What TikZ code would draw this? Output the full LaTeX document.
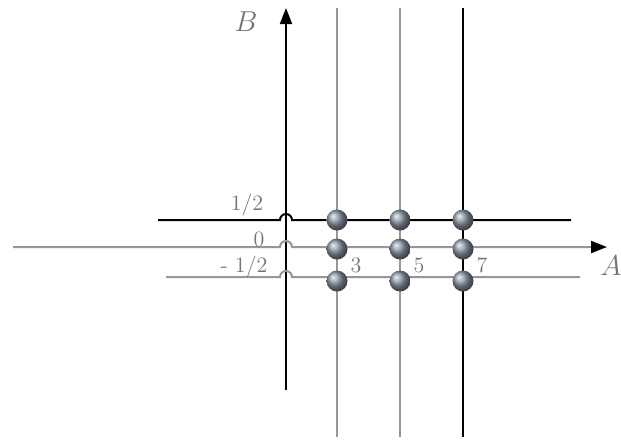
\documentclass[tikz,border=0pt]{standalone}
\usetikzlibrary{arrows.meta}
\definecolor{linegray}{RGB}{150,150,150}
\definecolor{textgray}{RGB}{115,115,115}
\definecolor{dotgray}{RGB}{140,148,165}
\begin{document}
\begin{tikzpicture}[x=0.5pt,y=-0.5pt,
        blackline/.style={line width=1pt, draw=black},
        grayline/.style={line width=1pt, draw=linegray},
        arrow/.style={-{Triangle[length=8pt,width=6pt,color=black]}},
        ball/.style={circle, shading=ball, ball color=dotgray, minimum size=10.5pt, inner sep=0pt},
        lbl/.style={text=textgray, inner sep=0pt, font=\fontsize{11}{13}\selectfont}]
        \useasboundingbox (0,0) rectangle (621,441);

        %%% End points of the lines
        % B axis
        \coordinate (Bbot) at (286,390);
        \coordinate (Btop) at (286,8);
        % vertical lines A = 3, 5, 7
        \coordinate (v3top) at (337,8);   \coordinate (v3bot) at (337,437);
        \coordinate (v5top) at (400,8);   \coordinate (v5bot) at (400,437);
        \coordinate (v7top) at (463,8);   \coordinate (v7bot) at (463,437);
        % horizontal lines B = 1/2, 0, -1/2 (with the hop over the B axis)
        \coordinate (hpl) at (158,220);   \coordinate (hpr) at (571,220);
        \coordinate (hzl) at (13,247);    \coordinate (hzr) at (607,247);
        \coordinate (hml) at (166,277);   \coordinate (hmr) at (580,277);

        %%% Vertical lines
        \draw[grayline] (v3top) -- (v3bot);
        \draw[grayline] (v5top) -- (v5bot);
        \draw[blackline] (v7top) -- (v7bot);
        \draw[blackline, arrow] (Bbot) -- (Btop);

        %%% Horizontal lines
        \draw[blackline] (hpl) -- (280,220) arc[start angle=180, end angle=0, radius=3pt] -- (hpr);
        \draw[grayline, arrow] (hzl) -- (280,247) arc[start angle=180, end angle=0, radius=3pt] -- (hzr);
        \draw[grayline] (hml) -- (280,277) arc[start angle=180, end angle=0, radius=3pt] -- (hmr);

        %%% Points of the grid
        \node[ball] (p3a) at (337,220) {};
        \node[ball] (p5a) at (400,220) {};
        \node[ball] (p7a) at (463,220) {};
        \node[ball] (p3b) at (337,249) {};
        \node[ball] (p5b) at (400,249) {};
        \node[ball] (p7b) at (463,249) {};
        \node[ball] (p3c) at (337,281) {};
        \node[ball] (p5c) at (400,281) {};
        \node[ball] (p7c) at (463,281) {};

        %%% Labels
        \node[lbl] (lhalf) at (247,205) {1/2};
        \node[lbl] (lzero) at (259,239) {0};
        \node[lbl] (lmhalf) at (244,267) {- 1/2};
        \node[lbl] (l3) at (356,265) {3};
        \node[lbl] (l5) at (419,265) {5};
        \node[lbl] (l7) at (482,265) {7};
        \node[lbl, font=\Large] (lA) at (611,266) {$A$};
        \node[lbl, font=\Large] (lB) at (246,22) {$B$};
\end{tikzpicture}
\end{document}
